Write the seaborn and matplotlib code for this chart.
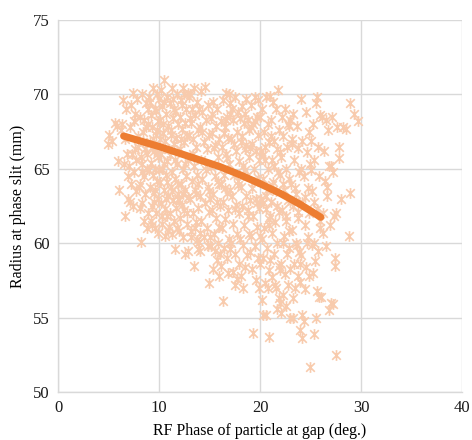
import matplotlib
matplotlib.use("Agg")
import matplotlib.pyplot as plt
from matplotlib.path import Path
import seaborn as sns
import pandas as pd

# scatter points (RF phase deg, radius mm)
phase = [
 4.9,5.0,5.6,5.3,6.0,5.9,5.8,
 6.3,6.4,6.6,6.5,6.6,6.8,6.9,6.7,6.2,
 7.4,7.8,7.2,7.6,7.1,7.9,7.3,7.7,7.5,7.2,7.7,7.1,7.4,7.9,7.5,7.0,
 8.3,8.7,8.1,8.9,8.4,8.6,8.2,8.8,8.5,8.1,8.6,8.3,8.9,8.5,8.8,8.2,8.4,8.9,8.0,8.7,8.3,
 9.4,9.8,9.1,9.6,9.2,9.9,9.3,9.7,9.1,9.5,9.9,9.2,9.6,9.4,9.8,9.1,9.5,9.9,9.3,9.7,9.2,9.6,9.9,9.7,9.3,9.8,9.0,9.5,
 10.5,10.2,10.8,10.3,10.7,10.1,10.9,10.4,10.6,10.2,10.8,10.3,10.7,10.1,10.5,10.9,10.2,10.6,10.8,10.3,10.9,10.6,10.4,10.0,10.9,10.5,
 11.3,11.8,11.1,11.6,11.4,11.9,11.2,11.7,11.5,11.1,11.8,11.3,11.6,11.2,11.9,11.4,11.7,11.1,11.5,11.8,11.3,11.6,11.9,11.0,11.4,
 12.4,12.9,12.2,12.7,12.1,12.6,12.3,12.8,12.5,12.1,12.9,12.4,12.7,12.2,12.6,12.9,12.3,12.5,12.1,12.8,12.4,12.6,12.9,12.0,12.3,
 13.5,13.1,13.8,13.3,13.6,13.2,13.9,13.4,13.7,13.1,13.5,13.8,13.3,13.6,13.1,13.9,13.4,13.7,13.2,13.9,13.5,13.8,13.0,13.6,
 14.5,14.2,14.8,14.3,14.6,14.1,14.9,14.4,14.7,14.2,14.6,14.3,14.8,14.1,14.5,14.9,14.2,14.7,14.4,14.8,14.1,14.9,14.0,
 15.3,15.7,15.1,15.6,15.2,15.9,15.4,15.8,15.1,15.5,15.9,15.3,15.7,15.2,15.6,15.9,15.4,15.8,15.1,15.5,15.7,15.3,15.9,
 16.6,16.9,16.3,16.7,16.1,16.5,16.8,16.2,16.6,16.9,16.4,16.1,16.7,16.3,16.8,16.5,16.2,16.9,16.4,16.7,16.1,16.8,16.3,16.6,
 17.5,17.2,17.8,17.3,17.7,17.1,17.6,17.9,17.4,17.8,17.2,17.6,17.9,17.3,17.7,17.1,17.5,17.9,17.3,17.7,17.5,17.0,
 18.6,18.2,18.8,18.4,18.9,18.1,18.5,18.9,18.3,18.7,18.1,18.6,18.2,18.8,18.4,18.9,18.3,18.7,18.5,18.1,18.3,18.0,18.6,
 19.5,19.1,19.7,19.3,19.8,19.2,19.6,19.9,19.4,19.8,19.2,19.6,19.9,19.3,19.7,19.1,19.5,19.8,19.2,19.6,19.9,19.3,19.0,19.5,
 20.6,20.2,20.8,20.4,20.9,20.1,20.5,20.8,20.3,20.7,20.1,20.6,20.9,20.4,20.2,20.7,20.3,20.9,20.5,20.8,20.2,20.3,20.6,20.9,20.0,20.5,
 21.8,21.3,21.6,21.1,21.9,21.4,21.7,21.2,21.8,21.3,21.6,21.1,21.9,21.5,21.2,21.7,21.4,21.9,21.2,21.6,21.9,21.7,21.0,21.5,
 22.5,22.2,22.8,22.9,22.3,22.7,22.1,22.6,22.9,22.4,22.8,22.2,22.6,22.9,22.3,22.7,22.1,22.5,22.8,22.3,22.6,22.1,22.4,22.0,
 23.3,23.7,23.2,23.8,23.4,23.9,23.1,23.6,23.3,23.8,23.2,23.6,23.9,23.4,23.8,23.5,23.3,23.0,23.3,23.7,
 24.1,24.5,24.8,24.2,24.6,24.9,24.3,24.7,24.2,24.8,24.4,24.6,24.1,24.5,24.8,24.4,24.2,24.3,24.0,24.2,24.9,24.0,
 25.6,25.5,25.9,25.2,25.7,25.3,25.8,25.1,25.6,25.9,25.9,25.3,25.7,25.4,25.2,25.6,25.5,25.3,25.0,25.8,25.1,
 26.5,26.1,26.7,26.3,26.8,26.4,26.6,26.2,26.9,26.2,26.5,26.0,26.8,26.6,
 27.1,27.6,27.8,27.8,27.2,27.0,27.5,27.3,27.4,27.4,27.0,27.2,27.5,28.2,28.5,28.05,28.9,28.8,28.9,29.3,29.7,
 9.0,9.4,9.8,10.1,10.5,10.7,11.2,11.6,11.9,12.2,12.6,12.8,13.1,13.4,13.7,14.0,14.3,14.6,14.9,15.2,
 15.5,15.8,16.0,16.4,16.7,17.0,17.4,17.8,18.2,18.5,18.8,19.1,19.4,19.7,20.0,20.3,20.6,20.9,21.1,21.4,
 21.7,22.0,22.3,22.6,22.9,23.2,23.5,23.8,24.1,24.4,24.7,25.0,25.3,8.5,8.8,8.1,9.3,10.3,11.0,12.0,
 13.2,14.1,15.0,16.0,17.0,18.0,19.0,20.0,21.0,22.0,23.0,24.0,11.5,12.5,10.0,13.0,17.0,18.5,19.8,21.0,
 23.0,10.8,9.6,11.3,12.4,13.9,15.0,16.5,17.5,19.0,20.3,21.2,22.0,23.0,7.6,8.3,6.9,
]
radius = [
 66.7,67.3,68.1,66.9,63.6,65.5,67.9,
 68.0,69.6,67.0,65.3,61.8,66.0,64.5,69.0,67.6,
 70.1,69.7,69.3,68.7,67.8,66.5,66.0,65.6,64.8,64.0,63.5,62.8,62.5,67.2,68.2,65.2,
 70.0,69.4,68.5,68.0,67.5,66.3,65.8,65.0,64.5,64.0,63.3,62.7,62.0,61.5,61.0,60.1,66.8,69.0,63.8,67.8,65.3,
 70.4,70.0,69.5,69.0,68.6,68.2,67.8,67.3,66.8,66.2,65.8,65.4,65.0,64.6,64.2,63.8,63.4,63.0,62.5,62.0,61.5,61.0,60.7,68.9,66.5,67.6,64.9,62.8,
 71.0,70.3,69.8,69.2,68.7,68.3,67.9,67.4,66.9,66.0,65.5,65.0,64.6,64.1,63.6,63.2,62.7,62.3,61.8,61.3,60.8,60.5,68.0,64.9,66.3,69.5,
 70.4,70.0,69.4,68.9,68.4,68.0,67.6,67.1,66.7,65.9,65.3,64.8,64.3,63.8,63.3,62.9,62.4,62.0,61.5,61.0,60.6,59.6,63.0,66.3,69.7,
 70.4,70.1,69.6,69.0,68.5,68.1,67.7,67.2,66.8,66.3,65.6,65.0,64.5,64.0,63.6,63.1,62.6,62.2,61.7,61.3,60.4,59.3,59.5,62.9,69.3,
 70.4,70.0,69.5,69.0,68.6,68.1,67.6,67.0,66.5,65.8,65.2,64.6,64.2,63.6,63.0,62.4,62.0,61.4,60.8,59.6,58.5,60.2,67.3,61.0,
 70.5,70.2,69.3,68.8,68.3,67.8,67.3,66.8,66.3,65.6,64.9,64.3,63.8,63.2,62.7,62.1,61.5,61.0,60.4,59.8,59.5,57.3,60.1,
 69.5,69.0,68.4,67.9,67.4,67.0,66.4,65.8,65.1,64.5,64.0,63.3,62.8,62.2,61.7,61.1,60.6,60.0,59.8,59.5,58.9,58.3,57.8,
 70.1,70.0,69.6,68.5,68.2,67.8,67.1,66.5,66.0,65.3,64.6,64.0,63.4,62.8,62.2,61.6,61.0,60.3,59.7,59.0,58.5,58.0,56.1,68.3,
 69.8,69.0,68.8,68.3,67.5,67.0,66.2,65.5,64.6,63.9,63.2,62.6,62.0,61.3,60.6,60.0,59.3,58.6,58.1,57.6,57.2,68.7,
 69.7,69.2,68.3,68.1,67.6,66.8,66.3,65.8,65.2,64.5,63.8,63.2,62.5,61.8,61.2,60.6,59.9,59.2,58.4,57.8,57.0,68.4,66.6,
 69.8,69.3,68.5,68.0,67.3,66.7,66.2,65.6,65.0,64.4,63.7,63.0,62.4,61.8,61.1,60.5,59.8,59.0,58.3,57.5,57.0,54.0,66.4,68.2,
 69.8,69.0,68.0,67.5,66.8,66.2,65.6,65.0,64.3,63.6,63.0,62.3,61.6,61.0,60.3,59.7,59.0,58.2,57.3,57.0,56.2,55.2,55.2,53.7,60.5,66.5,
 70.3,69.5,69.0,68.3,67.6,66.9,66.3,65.6,64.8,64.1,63.5,62.8,62.1,61.4,60.7,60.0,59.3,58.5,57.7,57.0,56.3,55.6,61.8,57.2,
 69.0,68.5,68.0,67.9,67.2,66.5,65.8,65.0,64.3,63.6,62.9,62.2,61.5,60.8,60.0,59.3,58.6,57.9,57.2,56.5,55.8,55.3,60.5,56.0,
 68.7,67.9,67.0,66.4,65.6,64.8,64.0,63.3,62.5,61.7,60.9,60.0,59.4,58.6,57.8,57.0,56.3,55.0,55.0,59.9,
 69.7,68.8,67.5,66.9,66.1,65.3,64.5,63.7,62.8,62.0,61.2,60.0,59.2,58.4,57.8,56.9,55.2,54.8,54.2,53.6,51.7,58.6,
 69.8,69.4,68.6,68.0,66.5,65.6,64.5,63.5,62.3,61.5,61.0,60.0,59.5,58.8,58.0,56.8,55.0,53.9,66.9,56.4,59.9,
 68.3,68.5,67.6,66.2,65.2,64.2,63.2,62.0,61.2,60.7,59.8,56.4,55.5,63.8,
 68.5,67.8,66.5,65.7,64.8,65.2,62.0,61.8,59.0,58.5,56.0,55.9,52.5,67.8,67.7,63.0,63.4,60.5,69.4,68.7,68.2,
 69.8,67.0,66.0,67.0,65.3,63.0,67.3,65.6,64.0,67.0,65.3,62.0,68.4,66.0,63.3,69.0,67.5,65.2,63.5,68.7,
 66.6,64.2,62.5,67.4,65.7,63.6,66.7,64.2,67.2,64.9,62.2,67.8,64.1,62.7,68.5,65.9,63.2,61.2,67.2,65.2,
 62.5,66.1,64.0,61.8,59.7,66.7,63.7,62.1,65.0,63.1,60.4,64.9,62.8,68.3,66.0,62.4,61.2,61.8,61.1,60.8,
 60.4,60.7,60.4,59.3,59.6,60.3,59.4,58.6,58.9,58.2,58.3,57.4,69.0,70.0,69.7,69.8,69.4,68.7,69.6,69.9,
 68.3,64.1,63.6,63.5,63.3,64.0,63.0,63.7,62.3,62.9,62.7,63.9,64.6,62.8,66.3,64.8,63.0,
]

# trend curve
trend_phase = [6.5, 8, 10, 12, 14, 16, 18, 20, 22, 24, 26]
trend_radius = [67.2, 66.9, 66.5, 66.05, 65.6, 65.15, 64.6, 64.0, 63.35, 62.6, 61.75]

x_ticks = [0, 10, 20, 30, 40]
y_ticks = [50, 55, 60, 65, 70, 75]

sns.set_theme(style="white")
plt.rcParams['font.family'] = ['Liberation Serif', 'DejaVu Serif']

fig = plt.figure(figsize=(4.72, 4.40), dpi=100)
ax = fig.add_axes([0.123, 0.109, 0.856, 0.8455])

star = Path([(-1, -1), (1, 1), (-1, 1), (1, -1), (0, -1.25), (0, 1.25)],
            [Path.MOVETO, Path.LINETO, Path.MOVETO, Path.LINETO, Path.MOVETO, Path.LINETO])

df = pd.DataFrame({"phase": phase, "radius": radius})
sns.scatterplot(data=df, x="phase", y="radius", ax=ax, marker=star, s=60,
                color="#F8CBAD", edgecolor="#F8CBAD", linewidth=1.2, zorder=2)

tdf = pd.DataFrame({"phase": trend_phase, "radius": trend_radius})
sns.lineplot(data=tdf, x="phase", y="radius", ax=ax, color="#ED7D31",
             linewidth=5.2, solid_capstyle="round", solid_joinstyle="round", zorder=3)

ax.set_xlim(0, 40)
ax.set_ylim(50, 75)
ax.set_xticks(x_ticks)
ax.set_yticks(y_ticks)
ax.grid(True, color="#D9D9D9", linewidth=1)
ax.set_axisbelow(True)
for s in ["top", "right"]:
    ax.spines[s].set_visible(False)
for s in ["left", "bottom"]:
    ax.spines[s].set_color("#D9D9D9")
    ax.spines[s].set_linewidth(1)
ax.tick_params(axis="both", length=0, labelsize=12, colors="#1a1a1a", pad=6)
ax.set_xlabel("RF Phase of particle at gap (deg.)", fontsize=11.5, color="black", labelpad=5)
ax.set_ylabel("Radius at phase slit (mm)", fontsize=11.5, color="black", labelpad=5)

fig.savefig("out.png", dpi=100)
